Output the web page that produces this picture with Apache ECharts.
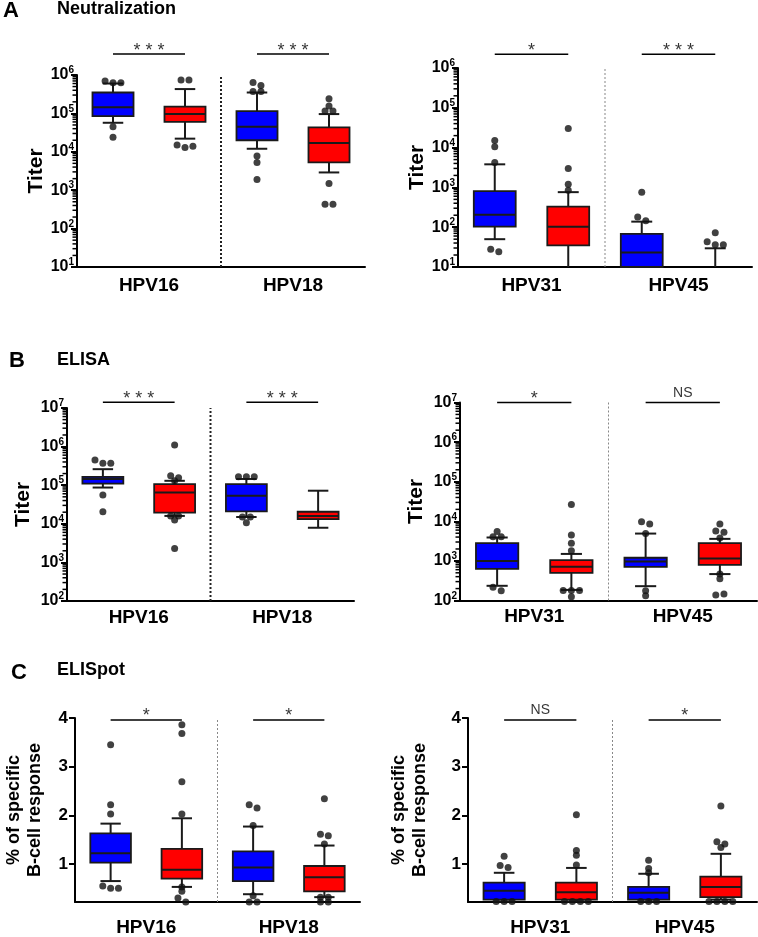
<!DOCTYPE html>
<html><head><meta charset="utf-8">
<script src="https://cdn.jsdelivr.net/npm/echarts@6/dist/echarts.min.js"></script>
<style>html,body{margin:0;padding:0;background:#fff}#c{width:758px;height:937px}</style>
</head><body><div id="c"></div>
<script>
const FONT = '"Liberation Sans", Arial, sans-serif';
const groupColors = ['#0000FF', '#FF0000'];

// ---- A: Neutralization ----
const neutLeftCats = ['HPV16', 'HPV18'];
// [min, q1, median, q3, max] for blue16, red16, blue18, red18
const neutLeftBoxes = [
  [5.7e4, 8.5e4, 1.45e5, 3.5e5, 6.0e5],
  [2.2e4, 6.0e4, 9.6e4, 1.5e5, 4.3e5],
  [1.2e4, 2.0e4, 4.5e4, 1.15e5, 3.5e5],
  [2.9e3, 5.3e3, 1.7e4, 4.3e4, 9.6e4]
];
const neutLeftOutliers = [
  [7.0e5, 6.3e5, 6.3e5, 4.5e4, 2.4e4],
  [7.4e5, 7.4e5, 1.5e4, 1.3e4, 1.4e4],
  [6.4e5, 5.3e5, 3.7e5, 3.7e5, 7.8e3, 5.3e3, 1.9e3],
  [2.4e5, 1.55e5, 1.15e5, 1.15e5, 1.5e3, 430, 430]
];
const neutLeftSig = ['***', '***'];

const neutRightCats = ['HPV31', 'HPV45'];
const neutRightBoxes = [
  [50, 103, 205, 810, 3.8e3],
  [5, 35, 103, 330, 760],
  [5, 8, 23, 68, 138],
  [5, 5, 5, 5, 29.5]
];
const neutRightOutliers = [
  [1.5e4, 1.05e4, 4.2e3, 28, 24],
  [3.0e4, 3.0e3, 1.2e3, 850],
  [760, 180, 145],
  [73, 43, 36, 36]
];
const neutRightSig = ['*', '***'];

// ---- B: ELISA ----
const elisaLeftCats = ['HPV16', 'HPV18'];
const elisaLeftBoxes = [
  [8.7e4, 1.1e5, 1.45e5, 1.65e5, 2.6e5],
  [1.6e4, 1.95e4, 6.5e4, 1.07e5, 1.3e5],
  [1.5e4, 2.1e4, 5.3e4, 1.07e5, 1.45e5],
  [7.9e3, 1.32e4, 1.6e4, 2.05e4, 7.2e4]
];
const elisaLeftOutliers = [
  [4.5e5, 3.7e5, 3.7e5, 5.6e4, 2.05e4],
  [1.1e6, 1.75e5, 1.55e5, 1.3e5, 1.6e4, 1.6e4, 1.26e4, 2.3e3],
  [1.65e5, 1.65e5, 1.65e5, 1.5e4, 1.5e4, 1.07e4],
  []
];
const elisaLeftSig = ['***', '***'];

const elisaRightCats = ['HPV31', 'HPV45'];
const elisaRightBoxes = [
  [235, 630, 1.0e3, 2.8e3, 3.9e3],
  [185, 500, 710, 1.05e3, 1.5e3],
  [230, 710, 970, 1.2e3, 4.9e3],
  [465, 790, 1.15e3, 2.8e3, 3.6e3]
];
const elisaRightOutliers = [
  [5.5e3, 4.1e3, 4.1e3, 215, 177],
  [2.65e4, 4.5e3, 2.8e3, 1.8e3, 180, 180, 180, 125],
  [9.8e3, 8.5e3, 4.9e3, 177, 132],
  [8.5e3, 5.7e3, 5.3e3, 3.8e3, 465, 355, 138, 145]
];
const elisaRightSig = ['*', 'NS'];

// ---- C: ELISpot ----
const spotLeftCats = ['HPV16', 'HPV18'];
const spotLeftBoxes = [
  [0.65, 1.03, 1.22, 1.63, 1.83],
  [0.53, 0.70, 0.88, 1.31, 1.94],
  [0.38, 0.65, 0.93, 1.26, 1.77],
  [0.32, 0.44, 0.73, 0.96, 1.38]
];
const spotLeftOutliers = [
  [3.45, 2.22, 2.03, 0.55, 0.50, 0.50],
  [3.86, 3.68, 2.69, 2.03, 0.53, 0.44, 0.30, 0.22],
  [2.22, 2.15, 1.79, 0.35, 0.22, 0.22],
  [2.34, 1.61, 1.58, 1.41, 0.32, 0.32, 0.22, 0.22]
];
const spotLeftSig = ['*', '*'];

const spotRightCats = ['HPV31', 'HPV45'];
const spotRightBoxes = [
  [0.23, 0.27, 0.45, 0.62, 0.82],
  [0.23, 0.27, 0.42, 0.62, 0.92],
  [0.23, 0.27, 0.41, 0.53, 0.80],
  [0.27, 0.32, 0.53, 0.74, 1.21]
];
const spotRightOutliers = [
  [1.16, 0.97, 0.93, 0.23, 0.23, 0.23],
  [2.01, 1.28, 1.18, 0.98, 0.23, 0.23, 0.23, 0.23],
  [1.08, 0.91, 0.82, 0.23, 0.23, 0.23],
  [2.19, 1.46, 1.41, 1.34, 0.23, 0.23, 0.23, 0.23]
];
const spotRightSig = ['NS', '*'];

const spotTicks = [1, 2, 3, 4];
const minorMultipliers = [2, 3, 4, 5, 6, 7, 8, 9];
const titerName = 'Titer';
const spotName = '% of specific\nB-cell response';

const panels = [
  {grid: {left: 77, top: 75, width: 288, height: 192}, cats: neutLeftCats, boxes: neutLeftBoxes, outl: neutLeftOutliers, sig: neutLeftSig,
   log: true, yMin: 1e1, yMax: 1e6, sigLevel: 3.5e6, divider: 'thick', name: titerName, nameGap: 30, labelMargin: 9},
  {grid: {left: 458, top: 68, width: 294, height: 199}, cats: neutRightCats, boxes: neutRightBoxes, outl: neutRightOutliers, sig: neutRightSig,
   log: true, yMin: 1e1, yMax: 1e6, sigLevel: 2.2e6, divider: 'thin', name: titerName, nameGap: 30, labelMargin: 9},
  {grid: {left: 67, top: 408, width: 287, height: 193}, cats: elisaLeftCats, boxes: elisaLeftBoxes, outl: elisaLeftOutliers, sig: elisaLeftSig,
   log: true, yMin: 1e2, yMax: 1e7, sigLevel: 1.4e7, divider: 'thick', name: titerName, nameGap: 33, labelMargin: 7},
  {grid: {left: 460, top: 402.5, width: 297, height: 198}, cats: elisaRightCats, boxes: elisaRightBoxes, outl: elisaRightOutliers, sig: elisaRightSig,
   log: true, yMin: 1e2, yMax: 1e7, sigLevel: 1.0e7, divider: 'thin', name: titerName, nameGap: 33, labelMargin: 7},
  {grid: {left: 75, top: 718, width: 285, height: 190}, cats: spotLeftCats, boxes: spotLeftBoxes, outl: spotLeftOutliers, sig: spotLeftSig,
   log: false, yMin: 0.22, yMax: 4, sigLevel: 3.96, divider: 'thin', name: spotName, nameGap: 29, labelMargin: 16},
  {grid: {left: 468, top: 718, width: 289, height: 190}, cats: spotRightCats, boxes: spotRightBoxes, outl: spotRightOutliers, sig: spotRightSig,
   log: false, yMin: 0.22, yMax: 4, sigLevel: 3.96, divider: 'thin', name: spotName, nameGap: 37, labelMargin: 16}
];

function jitter(vals, log) {
  // spread points with near-equal values symmetrically around the box center
  const res = new Array(vals.length).fill(0);
  const used = new Array(vals.length).fill(false);
  const close = (a, b) => log ? Math.abs(Math.log10(a) - Math.log10(b)) < 0.1 : Math.abs(a - b) < 0.09;
  for (let i = 0; i < vals.length; i++) {
    if (used[i]) continue;
    const cl = [i]; used[i] = true;
    for (let j = i + 1; j < vals.length; j++) {
      if (!used[j] && close(vals[i], vals[j])) { cl.push(j); used[j] = true; }
    }
    cl.forEach((idx, k) => { res[idx] = (k - (cl.length - 1) / 2) * 0.11; });
  }
  return res;
}

function renderBox(params, api) {
  const x = api.value(0);
  const cs = params.coordSys;
  const top = cs.y, bottom = cs.y + cs.height;
  const inRange = y => y >= top - 0.5 && y <= bottom + 0.5;
  const clampY = y => Math.max(top, Math.min(bottom, y));
  const vMin = api.value(1), vQ1 = api.value(2), vMed = api.value(3), vQ3 = api.value(4), vMax = api.value(5);
  const pMed = api.coord([x, vMed]);
  const cx = pMed[0];
  const band = api.coord([x + 1, vMed])[0] - cx;
  const bw = band * 0.57, cw = bw * 0.5;
  const yMin = api.coord([x, vMin])[1], yQ1 = api.coord([x, vQ1])[1], yQ3 = api.coord([x, vQ3])[1], yMax = api.coord([x, vMax])[1];
  const ink = '#1a1a1a';
  const lw = {stroke: ink, lineWidth: 2};
  const ch = [];
  const line = (x1, y1, x2, y2) => ({type: 'line', shape: {x1, y1, x2, y2}, style: lw});
  const cQ1 = clampY(yQ1), cQ3 = clampY(yQ3), cMin = clampY(yMin), cMax = clampY(yMax);
  if (Math.abs(cQ1 - cMin) > 0.5) ch.push(line(cx, cQ1, cx, cMin));
  if (inRange(yMin)) ch.push(line(cx - cw / 2, yMin, cx + cw / 2, yMin));
  if (Math.abs(cQ3 - cMax) > 0.5) ch.push(line(cx, cQ3, cx, cMax));
  if (inRange(yMax)) ch.push(line(cx - cw / 2, yMax, cx + cw / 2, yMax));
  if (cQ1 - cQ3 > 0.5) {
    ch.push({type: 'rect', shape: {x: cx - bw / 2, y: cQ3, width: bw, height: cQ1 - cQ3},
      style: {fill: groupColors[x % 2], stroke: ink, lineWidth: 1.8}});
    if (inRange(pMed[1])) ch.push(line(cx - bw / 2, pMed[1], cx + bw / 2, pMed[1]));
  }
  return {type: 'group', children: ch};
}

// minor log ticks drawn on the y axis through the axis scale
function renderMinorTick(params, api) {
  const y = api.coord([api.value(0), api.value(1)])[1];
  const x = params.coordSys.x;
  return {type: 'line', shape: {x1: x - 4.5, y1: y, x2: x, y2: y}, style: {stroke: '#000', lineWidth: 1.5}};
}

const grids = [], xAxes = [], yAxes = [], series = [];
const axisBlack = {color: '#000', width: 2};
panels.forEach((p, pi) => {
  grids.push(p.grid);
  xAxes.push({type: 'category', gridIndex: pi, data: p.cats, position: 'bottom', boundaryGap: true,
    axisLine: {onZero: false, lineStyle: axisBlack}, axisTick: {show: false}, splitLine: {show: false},
    axisLabel: {fontSize: 19, fontWeight: 'bold', color: '#000', fontFamily: FONT, margin: p.labelMargin}});
  const valX = xAxes.length;
  xAxes.push({type: 'value', gridIndex: pi, min: -0.5, max: 3.5, show: false, axisLine: {onZero: false}});
  const mainY = yAxes.length;
  const nameStyle = {fontSize: p.log ? 21 : 18, fontWeight: 'bold', color: '#000', fontFamily: FONT, lineHeight: 21};
  if (p.log) {
    yAxes.push({type: 'log', logBase: 10, gridIndex: pi, min: p.yMin, max: p.yMax, position: 'left',
      axisLine: {show: true, onZero: false, lineStyle: axisBlack}, splitLine: {show: false},
      axisTick: {show: true, length: 6, lineStyle: {color: '#000', width: 2}},
      axisLabel: {margin: 3, color: '#000', fontFamily: FONT,
        formatter: v => '{b|10}{s|' + Math.round(Math.log10(v)) + '}',
        rich: {b: {fontSize: 16, fontWeight: 'bold', color: '#000', fontFamily: FONT},
               s: {fontSize: 10, fontWeight: 'bold', color: '#000', fontFamily: FONT, padding: [0, 0, 9, 0]}}},
      name: p.name, nameLocation: 'middle', nameGap: p.nameGap, nameTextStyle: nameStyle});
    const minor = [];
    for (let d = Math.round(Math.log10(p.yMin)); d < Math.round(Math.log10(p.yMax)); d++) {
      minorMultipliers.forEach(k => minor.push([-0.5, k * Math.pow(10, d)]));
    }
    series.push({type: 'custom', xAxisIndex: valX, yAxisIndex: mainY, renderItem: renderMinorTick, silent: true, z: 5, clip: false,
      encode: {x: 0, y: 1}, data: minor});
  } else {
    yAxes.push({type: 'value', gridIndex: pi, min: p.yMin, max: p.yMax, position: 'left',
      axisLine: {show: true, onZero: false, lineStyle: axisBlack}, splitLine: {show: false},
      axisTick: {show: true, length: 6, customValues: spotTicks, lineStyle: {color: '#000', width: 2}},
      axisLabel: {customValues: spotTicks, margin: 7, fontSize: 17, fontWeight: 'bold', color: '#000', fontFamily: FONT},
      name: p.name, nameLocation: 'middle', nameGap: p.nameGap, nameTextStyle: nameStyle});
  }
  // divider between the two categories
  series.push({type: 'line', xAxisIndex: valX, yAxisIndex: mainY, data: [[1.5, p.yMin], [1.5, p.yMax]],
    symbol: 'none', silent: true, z: 1,
    lineStyle: p.divider === 'thick' ? {color: '#222', width: 2, type: [2, 2]} : {color: '#888', width: 1, type: [2, 2]}});
  // boxes
  series.push({type: 'custom', xAxisIndex: valX, yAxisIndex: mainY, renderItem: renderBox, z: 2, silent: true,
    encode: {x: 0, y: [1, 2, 3, 4, 5]},
    data: p.boxes.map((b, i) => [i].concat(b))});
  // outliers
  const pts = [];
  p.outl.forEach((vals, i) => {
    const jit = jitter(vals, p.log);
    vals.forEach((v, k) => pts.push([i + jit[k], v]));
  });
  series.push({type: 'scatter', xAxisIndex: valX, yAxisIndex: mainY, data: pts, symbolSize: 7, clip: false, z: 3, silent: true,
    itemStyle: {color: '#111'}});
  // significance bars
  p.sig.forEach((s, j) => {
    series.push({type: 'line', xAxisIndex: valX, yAxisIndex: mainY, data: [[2 * j, p.sigLevel], [2 * j + 1, p.sigLevel]],
      symbol: 'none', clip: false, silent: true, lineStyle: {color: '#000', width: 1.5}});
    const isNS = s === 'NS';
    series.push({type: 'scatter', xAxisIndex: valX, yAxisIndex: mainY, data: [[2 * j + 0.5, p.sigLevel]], clip: false, silent: true,
      symbolSize: 1, itemStyle: {color: 'rgba(0,0,0,0)'},
      label: {show: true, position: 'top', distance: isNS ? 2 : -6, formatter: s === '***' ? '* * *' : s,
        fontSize: isNS ? 14 : 18, color: '#000', fontFamily: FONT}});
  });
});

const titleStyle = (size) => ({fontSize: size, fontWeight: 'bold', color: '#000', fontFamily: FONT});
const titles = [
  {text: 'A', left: 3, top: 0, padding: 0, textStyle: titleStyle(22)},
  {text: 'Neutralization', left: 57, top: 0, padding: 0, textStyle: titleStyle(18)},
  {text: 'B', left: 9, top: 350, padding: 0, textStyle: titleStyle(22)},
  {text: 'ELISA', left: 57, top: 351, padding: 0, textStyle: titleStyle(18)},
  {text: 'C', left: 11, top: 662, padding: 0, textStyle: titleStyle(22)},
  {text: 'ELISpot', left: 57, top: 661, padding: 0, textStyle: titleStyle(18)}
];

const chart = echarts.init(document.getElementById('c'));
chart.setOption({
  backgroundColor: '#fff',
  animation: false,
  title: titles,
  grid: grids,
  xAxis: xAxes,
  yAxis: yAxes,
  series: series
});
</script>
</body></html>
